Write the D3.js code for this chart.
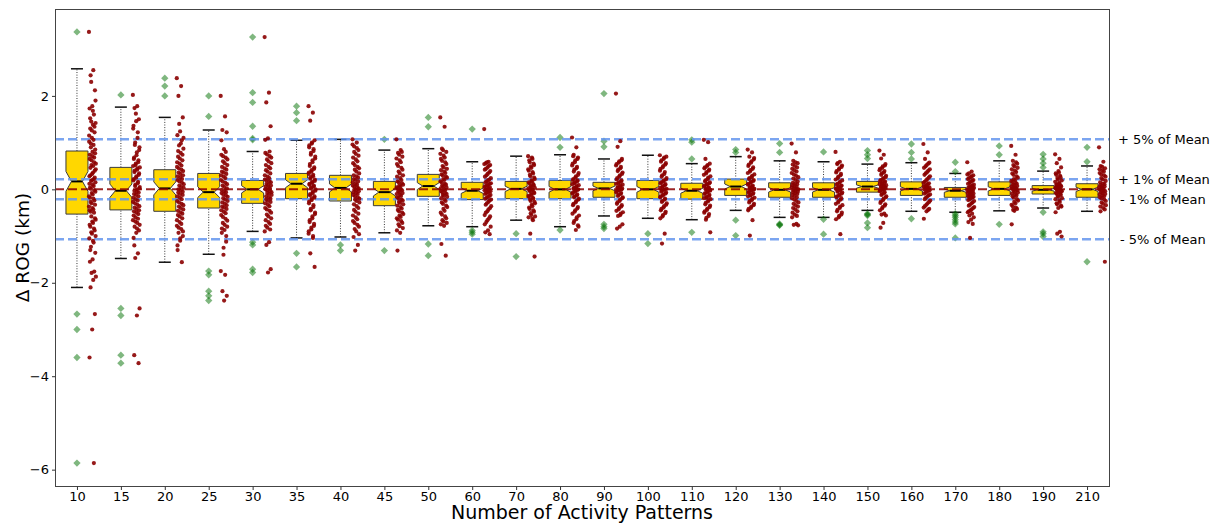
<!DOCTYPE html>
<html>
<head>
<meta charset="utf-8">
<script src="https://cdn.jsdelivr.net/npm/d3@7"></script>
<style>
  body { margin: 0; background: #fff; }
  svg { font-family: "DejaVu Sans", sans-serif; }
</style>
</head>
<body>
<svg id="svg-main" width="1219" height="523"></svg>
<script>
// categories (number of activity patterns)
var categories = [10, 15, 20, 25, 30, 35, 40, 45, 50, 60, 70, 80, 90, 100, 110, 120, 130, 140, 150, 160, 170, 180, 190, 210];

// box stats (km)
var whiskerLow  = [-2.10, -1.48, -1.56, -1.39, -0.90, -1.04, -1.02, -0.93, -0.78, -0.80, -0.66, -0.80, -0.57, -0.62, -0.65, -0.45, -0.60, -0.60, -0.45, -0.47, -0.49, -0.46, -0.40, -0.47];
var q1          = [-0.53, -0.44, -0.47, -0.40, -0.30, -0.20, -0.25, -0.35, -0.15, -0.22, -0.20, -0.20, -0.17, -0.20, -0.21, -0.13, -0.17, -0.17, -0.06, -0.13, -0.17, -0.13, -0.10, -0.17];
var medians     = [0.17, -0.03, 0.02, -0.06, 0.00, 0.12, 0.03, -0.06, 0.07, -0.03, 0.01, 0.00, 0.02, 0.00, -0.03, 0.06, -0.01, -0.01, 0.06, 0.01, -0.03, 0.01, -0.01, 0.00];
var q3          = [0.82, 0.47, 0.42, 0.34, 0.19, 0.34, 0.30, 0.17, 0.32, 0.15, 0.17, 0.19, 0.15, 0.19, 0.13, 0.22, 0.14, 0.14, 0.17, 0.16, 0.04, 0.16, 0.08, 0.12];
var whiskerHigh = [2.58, 1.76, 1.54, 1.27, 0.81, 1.05, 1.07, 0.84, 0.87, 0.59, 0.71, 0.74, 0.65, 0.73, 0.55, 0.70, 0.61, 0.59, 0.54, 0.57, 0.34, 0.61, 0.39, 0.50];
var sampleSize = 100;

var outliers = [
  [3.37, -2.67, -3.0, -3.6, -5.86],
  [2.02, -2.55, -2.7, -3.55, -3.72],
  [2.38, 2.21, 2.0],
  [2.0, 1.56, -1.75, -1.83, -2.18, -2.28, -2.38],
  [3.26, 2.07, 1.86, 1.35, 1.09, 1.06, -1.13, -1.19, -1.71, -1.78],
  [1.78, 1.64, 1.47, -1.37, -1.66],
  [-1.19, -1.31],
  [1.07, -1.31],
  [1.54, 1.34, -1.17, -1.42],
  [1.29, -0.88, -0.92, -0.96],
  [-0.95, -1.44],
  [1.11, 0.90, -0.87],
  [2.05, 1.03, 0.91, -0.75, -0.80, -0.84],
  [-0.95, -1.16],
  [1.06, 1.01, 0.65, -0.92],
  [0.85, 0.79, -0.66, -0.99],
  [0.98, 0.79, -0.74, -0.76, -0.77],
  [0.80, -0.64, -0.96],
  [0.83, 0.74, 0.66, -0.52, -0.54, -0.56, -0.72, -0.82],
  [0.97, 0.79, 0.65, -0.63],
  [0.58, 0.38, -0.52, -0.56, -0.60, -0.65, -0.70, -0.74, -1.04],
  [0.93, 0.74, -0.75],
  [0.75, 0.65, 0.56, 0.47, -0.49, -0.91, -0.95, -1.01],
  [0.90, 0.59, -1.55]
];

// individual runs (red strip)
var samples = [
  [3.37, 2.55, 2.44, 2.12, 1.78, 1.73, 1.6, 1.45, 1.42, 1.38, 1.3, 1.22, 1.1, 1.02, 0.95, 0.9, 0.85, 0.8, 0.74, 0.68, 0.62, 0.55, 0.5, 0.46, 0.4, 0.33, 0.28, 0.22, 0.18, 0.15, 0.1, 0.04, -0.02, -0.08, -0.15, -0.2, -0.27, -0.33, -0.4, -0.45, -0.5, -0.58, -0.65, -0.72, -0.8, -0.88, -0.95, -1.05, -1.14, -1.23, -1.36, -1.5, -1.55, -1.76, -1.79, -1.87, -1.94, -2.1, -2.67, -3.0, -3.6, -5.86,
   2.3, 1.9, 1.68, 1.52, 1.34, 1.26, 1.15, 1.06, 0.98, 0.77, 0.71, 0.65, 0.58, 0.52, 0.43, 0.36, 0.3, 0.25, 0.2, 0.12, 0.07, 0.01, -0.05, -0.11, -0.18, -0.24, -0.3, -0.37, -0.43, -0.48, -0.62, -0.69, -0.76, -0.84, -0.92, -1.0, -1.1, -1.3],
  [2.02, 1.78, 1.74, 1.5, 1.46, 1.36, 1.22, 1.0, 0.9, 0.79, 0.68, 0.62, 0.55, 0.5, 0.45, 0.4, 0.34, 0.28, 0.22, 0.16, 0.1, 0.05, 0.0, -0.03, -0.07, -0.12, -0.18, -0.24, -0.3, -0.36, -0.42, -0.47, -0.53, -0.6, -0.66, -0.72, -0.8, -0.88, -0.93, -1.04, -1.37, -1.47, -2.55, -2.7, -3.55, -3.72,
   1.62, 1.3, 1.1, 0.95, 0.84, 0.73, 0.65, 0.58, 0.52, 0.47, 0.42, 0.37, 0.31, 0.25, 0.19, 0.13, 0.07, 0.02, -0.05, -0.1, -0.15, -0.21, -0.27, -0.33, -0.39, -0.45, -0.5, -0.56, -0.63, -0.69, -0.76, -0.84, -1.2],
  [2.38, 2.21, 2.0, 1.54, 1.24, 1.16, 1.05, 0.94, 0.87, 0.78, 0.7, 0.62, 0.55, 0.48, 0.42, 0.36, 0.3, 0.25, 0.2, 0.14, 0.08, 0.03, -0.02, -0.07, -0.12, -0.18, -0.25, -0.31, -0.37, -0.43, -0.49, -0.55, -0.62, -0.7, -0.78, -0.85, -0.93, -1.0, -1.1, -1.2, -1.56,
   1.4, 1.1, 0.98, 0.82, 0.74, 0.66, 0.58, 0.51, 0.45, 0.39, 0.33, 0.28, 0.22, 0.17, 0.11, 0.05, 0.0, -0.05, -0.1, -0.15, -0.21, -0.28, -0.34, -0.4, -0.46, -0.52, -0.58, -0.66, -0.74, -0.82, -0.9, -1.05, -1.3],
  [2.0, 1.56, 1.27, 1.22, 0.86, 0.74, 0.68, 0.6, 0.52, 0.45, 0.38, 0.33, 0.27, 0.2, 0.14, 0.08, 0.02, -0.04, -0.08, -0.13, -0.19, -0.25, -0.31, -0.37, -0.42, -0.48, -0.55, -0.63, -0.72, -0.8, -0.87, -0.93, -1.12, -1.4, -1.75, -1.83, -2.18, -2.28, -2.38,
   1.05, 0.8, 0.71, 0.64, 0.56, 0.48, 0.42, 0.36, 0.3, 0.24, 0.17, 0.11, 0.05, -0.01, -0.06, -0.11, -0.16, -0.22, -0.28, -0.34, -0.39, -0.45, -0.51, -0.59, -0.67, -0.76, -0.84, -1.0, -1.25],
  [3.26, 2.07, 1.86, 1.35, 1.09, 1.06, 0.81, 0.75, 0.68, 0.6, 0.52, 0.45, 0.38, 0.3, 0.24, 0.19, 0.15, 0.1, 0.06, 0.02, -0.02, -0.06, -0.1, -0.15, -0.2, -0.25, -0.3, -0.36, -0.43, -0.5, -0.58, -0.66, -0.74, -0.82, -0.9, -1.13, -1.19, -1.71, -1.78,
   0.78, 0.71, 0.64, 0.56, 0.48, 0.41, 0.34, 0.27, 0.21, 0.17, 0.12, 0.08, 0.04, 0.0, -0.04, -0.08, -0.12, -0.17, -0.22, -0.27, -0.33, -0.4, -0.46, -0.54, -0.62, -0.7, -0.78, -0.86],
  [1.78, 1.64, 1.47, 1.05, 0.98, 0.9, 0.82, 0.74, 0.66, 0.58, 0.5, 0.44, 0.38, 0.33, 0.28, 0.23, 0.18, 0.14, 0.1, 0.06, 0.02, -0.03, -0.08, -0.13, -0.18, -0.23, -0.3, -0.38, -0.45, -0.53, -0.62, -0.7, -0.78, -0.86, -0.95, -1.04, -1.37, -1.66,
   1.0, 0.94, 0.86, 0.78, 0.7, 0.62, 0.54, 0.47, 0.41, 0.36, 0.31, 0.26, 0.21, 0.16, 0.12, 0.08, 0.04, 0.0, -0.05, -0.1, -0.15, -0.2, -0.26, -0.34, -0.42, -0.5, -0.58, -0.66, -0.74, -0.82, -0.9, -1.0],
  [1.07, 1.0, 0.92, 0.84, 0.76, 0.68, 0.6, 0.52, 0.45, 0.38, 0.3, 0.25, 0.2, 0.15, 0.1, 0.06, 0.02, -0.02, -0.06, -0.1, -0.15, -0.2, -0.25, -0.32, -0.4, -0.48, -0.56, -0.64, -0.72, -0.8, -0.9, -1.02, -1.19, -1.31,
   0.96, 0.88, 0.8, 0.72, 0.64, 0.56, 0.48, 0.42, 0.34, 0.28, 0.22, 0.17, 0.12, 0.08, 0.04, 0.0, -0.04, -0.08, -0.12, -0.17, -0.22, -0.28, -0.36, -0.44, -0.52, -0.6, -0.68, -0.76, -0.85, -0.96],
  [1.07, 0.84, 0.78, 0.7, 0.62, 0.54, 0.46, 0.38, 0.3, 0.24, 0.17, 0.13, 0.08, 0.04, 0.0, -0.04, -0.08, -0.12, -0.17, -0.22, -0.27, -0.32, -0.38, -0.44, -0.5, -0.56, -0.62, -0.68, -0.75, -0.83, -0.93, -1.31,
   0.8, 0.74, 0.66, 0.58, 0.5, 0.42, 0.34, 0.27, 0.2, 0.15, 0.1, 0.06, 0.02, -0.02, -0.06, -0.1, -0.14, -0.19, -0.24, -0.29, -0.35, -0.41, -0.47, -0.53, -0.59, -0.65, -0.72, -0.79, -0.88],
  [1.54, 1.34, 0.87, 0.8, 0.72, 0.65, 0.58, 0.5, 0.44, 0.38, 0.32, 0.27, 0.22, 0.17, 0.12, 0.08, 0.04, 0.0, -0.04, -0.08, -0.12, -0.16, -0.22, -0.28, -0.35, -0.42, -0.5, -0.58, -0.66, -0.72, -0.78, -1.17, -1.42,
   0.84, 0.76, 0.68, 0.61, 0.54, 0.47, 0.41, 0.35, 0.3, 0.25, 0.2, 0.15, 0.1, 0.06, 0.02, -0.02, -0.06, -0.1, -0.14, -0.19, -0.25, -0.31, -0.38, -0.46, -0.54, -0.62, -0.69, -0.75],
  [1.29, 0.59, 0.56, 0.52, 0.47, 0.42, 0.36, 0.3, 0.24, 0.19, 0.15, 0.12, 0.08, 0.05, 0.02, -0.01, -0.04, -0.07, -0.1, -0.14, -0.18, -0.22, -0.27, -0.33, -0.4, -0.47, -0.55, -0.62, -0.7, -0.8, -0.88, -0.92, -0.96,
   0.58, 0.54, 0.5, 0.44, 0.39, 0.33, 0.27, 0.21, 0.17, 0.13, 0.1, 0.07, 0.04, 0.0, -0.02, -0.05, -0.08, -0.12, -0.16, -0.2, -0.24, -0.3, -0.36, -0.43, -0.5, -0.58, -0.66, -0.75],
  [0.71, 0.65, 0.58, 0.52, 0.46, 0.4, 0.34, 0.28, 0.22, 0.17, 0.13, 0.09, 0.05, 0.02, -0.01, -0.04, -0.08, -0.12, -0.16, -0.2, -0.25, -0.3, -0.36, -0.42, -0.48, -0.55, -0.6, -0.66, -0.95, -1.44,
   0.68, 0.62, 0.55, 0.49, 0.43, 0.37, 0.31, 0.25, 0.19, 0.15, 0.11, 0.07, 0.03, 0.0, -0.02, -0.06, -0.1, -0.14, -0.18, -0.22, -0.27, -0.33, -0.39, -0.45, -0.51, -0.58, -0.63],
  [1.11, 0.9, 0.74, 0.68, 0.62, 0.55, 0.48, 0.42, 0.35, 0.28, 0.22, 0.19, 0.15, 0.11, 0.07, 0.03, 0.0, -0.03, -0.07, -0.11, -0.15, -0.2, -0.25, -0.31, -0.38, -0.45, -0.52, -0.6, -0.68, -0.8, -0.87,
   0.71, 0.65, 0.58, 0.51, 0.45, 0.38, 0.31, 0.25, 0.2, 0.17, 0.13, 0.09, 0.05, 0.01, -0.01, -0.05, -0.09, -0.13, -0.17, -0.22, -0.28, -0.34, -0.41, -0.48, -0.56, -0.64, -0.72, -0.77],
  [2.05, 1.03, 0.91, 0.65, 0.6, 0.54, 0.48, 0.42, 0.36, 0.3, 0.24, 0.19, 0.15, 0.12, 0.08, 0.05, 0.02, -0.01, -0.04, -0.08, -0.12, -0.17, -0.22, -0.28, -0.34, -0.4, -0.46, -0.52, -0.57, -0.75, -0.8, -0.84,
   0.62, 0.57, 0.51, 0.45, 0.39, 0.33, 0.27, 0.21, 0.17, 0.13, 0.1, 0.06, 0.03, 0.0, -0.02, -0.06, -0.1, -0.14, -0.19, -0.25, -0.31, -0.37, -0.43, -0.49, -0.55],
  [0.73, 0.68, 0.62, 0.56, 0.5, 0.44, 0.37, 0.3, 0.24, 0.19, 0.15, 0.11, 0.07, 0.03, 0.0, -0.03, -0.07, -0.11, -0.15, -0.2, -0.25, -0.3, -0.36, -0.42, -0.48, -0.55, -0.62, -0.95, -1.16,
   0.7, 0.65, 0.59, 0.53, 0.47, 0.4, 0.33, 0.27, 0.21, 0.17, 0.13, 0.09, 0.05, 0.01, -0.01, -0.05, -0.09, -0.13, -0.17, -0.22, -0.27, -0.33, -0.39, -0.45, -0.51, -0.58],
  [1.06, 1.01, 0.65, 0.55, 0.5, 0.45, 0.4, 0.34, 0.28, 0.22, 0.17, 0.13, 0.1, 0.06, 0.03, 0.0, -0.03, -0.06, -0.1, -0.14, -0.18, -0.21, -0.26, -0.32, -0.38, -0.44, -0.5, -0.57, -0.65, -0.92,
   0.52, 0.47, 0.42, 0.37, 0.31, 0.25, 0.19, 0.15, 0.11, 0.08, 0.04, 0.01, -0.01, -0.04, -0.08, -0.12, -0.16, -0.19, -0.23, -0.29, -0.35, -0.41, -0.47, -0.53, -0.61],
  [0.85, 0.79, 0.7, 0.64, 0.57, 0.5, 0.44, 0.38, 0.32, 0.26, 0.22, 0.18, 0.14, 0.1, 0.06, 0.03, 0.0, -0.03, -0.07, -0.1, -0.13, -0.18, -0.23, -0.28, -0.34, -0.4, -0.45, -0.66, -0.99,
   0.67, 0.6, 0.53, 0.47, 0.41, 0.35, 0.29, 0.24, 0.2, 0.16, 0.12, 0.08, 0.05, 0.01, -0.01, -0.05, -0.08, -0.12, -0.15, -0.2, -0.25, -0.31, -0.37, -0.42],
  [0.98, 0.79, 0.61, 0.56, 0.5, 0.44, 0.38, 0.32, 0.26, 0.2, 0.14, 0.11, 0.07, 0.04, 0.01, -0.02, -0.05, -0.08, -0.12, -0.17, -0.22, -0.28, -0.34, -0.4, -0.47, -0.54, -0.6, -0.74, -0.76, -0.77,
   0.58, 0.53, 0.47, 0.41, 0.35, 0.29, 0.23, 0.17, 0.12, 0.09, 0.05, 0.02, 0.0, -0.03, -0.06, -0.1, -0.14, -0.19, -0.25, -0.31, -0.37, -0.43, -0.5, -0.57],
  [0.8, 0.59, 0.54, 0.48, 0.42, 0.36, 0.3, 0.24, 0.19, 0.14, 0.1, 0.07, 0.04, 0.01, -0.02, -0.05, -0.09, -0.13, -0.17, -0.22, -0.28, -0.34, -0.4, -0.47, -0.54, -0.6, -0.64, -0.96,
   0.56, 0.51, 0.45, 0.39, 0.33, 0.27, 0.21, 0.16, 0.12, 0.08, 0.05, 0.02, 0.0, -0.03, -0.07, -0.11, -0.15, -0.19, -0.25, -0.31, -0.37, -0.44, -0.5, -0.57],
  [0.83, 0.74, 0.66, 0.54, 0.49, 0.44, 0.39, 0.34, 0.29, 0.24, 0.2, 0.17, 0.14, 0.11, 0.08, 0.06, 0.03, 0.0, -0.03, -0.06, -0.1, -0.15, -0.2, -0.26, -0.32, -0.38, -0.45, -0.52, -0.54, -0.56, -0.72, -0.82,
   0.51, 0.46, 0.41, 0.36, 0.31, 0.26, 0.22, 0.18, 0.15, 0.12, 0.09, 0.07, 0.04, 0.01, -0.01, -0.04, -0.08, -0.12, -0.17, -0.23, -0.29, -0.35, -0.41],
  [0.97, 0.79, 0.65, 0.57, 0.52, 0.46, 0.4, 0.34, 0.28, 0.22, 0.16, 0.13, 0.09, 0.06, 0.03, 0.01, -0.02, -0.05, -0.09, -0.13, -0.18, -0.24, -0.3, -0.36, -0.42, -0.47, -0.63,
   0.55, 0.49, 0.43, 0.37, 0.31, 0.25, 0.19, 0.14, 0.11, 0.07, 0.04, 0.02, 0.0, -0.03, -0.07, -0.11, -0.15, -0.21, -0.27, -0.33, -0.39, -0.44],
  [0.58, 0.38, 0.34, 0.3, 0.26, 0.22, 0.18, 0.14, 0.1, 0.07, 0.04, 0.02, 0.0, -0.02, -0.04, -0.06, -0.09, -0.12, -0.15, -0.17, -0.21, -0.25, -0.3, -0.35, -0.4, -0.45, -0.49, -0.52, -0.56, -0.6, -0.65, -0.7, -0.74, -1.04,
   0.32, 0.28, 0.24, 0.2, 0.16, 0.12, 0.08, 0.05, 0.03, 0.01, -0.01, -0.03, -0.05, -0.08, -0.11, -0.14, -0.16, -0.19, -0.23, -0.28, -0.33, -0.38, -0.43, -0.47],
  [0.93, 0.74, 0.61, 0.55, 0.49, 0.43, 0.37, 0.31, 0.25, 0.2, 0.16, 0.12, 0.09, 0.06, 0.03, 0.01, -0.02, -0.05, -0.09, -0.13, -0.18, -0.24, -0.3, -0.36, -0.42, -0.46, -0.75,
   0.58, 0.52, 0.46, 0.4, 0.34, 0.28, 0.22, 0.18, 0.14, 0.1, 0.07, 0.04, 0.02, 0.0, -0.03, -0.07, -0.11, -0.15, -0.21, -0.27, -0.33, -0.39, -0.44],
  [0.75, 0.65, 0.56, 0.47, 0.39, 0.34, 0.29, 0.24, 0.19, 0.14, 0.1, 0.08, 0.05, 0.03, 0.01, -0.01, -0.03, -0.05, -0.08, -0.1, -0.14, -0.19, -0.24, -0.3, -0.35, -0.4, -0.49, -0.91, -0.95, -1.01,
   0.36, 0.31, 0.26, 0.21, 0.16, 0.12, 0.09, 0.06, 0.04, 0.02, 0.0, -0.02, -0.04, -0.06, -0.09, -0.12, -0.16, -0.21, -0.27, -0.32, -0.37],
  [0.9, 0.59, 0.5, 0.45, 0.4, 0.35, 0.3, 0.24, 0.18, 0.12, 0.09, 0.06, 0.03, 0.0, -0.03, -0.06, -0.1, -0.13, -0.17, -0.22, -0.28, -0.34, -0.4, -0.47, -1.55,
   0.48, 0.43, 0.38, 0.32, 0.27, 0.21, 0.15, 0.11, 0.07, 0.04, 0.01, -0.01, -0.04, -0.08, -0.11, -0.15, -0.19, -0.25, -0.31, -0.37, -0.43]
];

// reference lines: percent of the mean ROG
var meanRog = 21.4;
var refPercents = [5, 1, -1, -5];
var refLabels = ["+ 5% of Mean", "+ 1% of Mean", "- 1% of Mean", "- 5% of Mean"];

var plotLeft = 55, plotRight = 1109, plotTop = 9, plotBottom = 486;
var svg = d3.select("#svg-main");

var x = d3.scalePoint()
  .domain(categories)
  .range([plotLeft, plotRight])
  .padding(0.5);

var y = d3.scaleLinear()
  .domain([-6.35, 3.86])
  .range([plotBottom, plotTop]);

var boxW = 22, capW = 12, stripOffset = 15.5, jitterW = 7;

// boxes
var boxes = svg.append("g").attr("id", "boxes");
categories.forEach(function(c, i) {
  var cx = x(c);
  var l = cx - boxW / 2, r = cx + boxW / 2, ind = boxW / 4;
  var half = 1.57 * (q3[i] - q1[i]) / Math.sqrt(sampleSize);
  var nLo = medians[i] - half, nHi = medians[i] + half;
  var g = boxes.append("g");

  // whiskers
  [[whiskerLow[i], q1[i]], [q3[i], whiskerHigh[i]]].forEach(function(w) {
    g.append("line")
      .attr("x1", cx).attr("x2", cx)
      .attr("y1", y(w[0])).attr("y2", y(w[1]))
      .attr("stroke", "#333")
      .attr("stroke-width", 1)
      .attr("stroke-dasharray", "1,1.6");
  });
  [whiskerLow[i], whiskerHigh[i]].forEach(function(v) {
    g.append("line")
      .attr("x1", cx - capW / 2).attr("x2", cx + capW / 2)
      .attr("y1", y(v)).attr("y2", y(v))
      .attr("stroke", "#111")
      .attr("stroke-width", 1.5);
  });

  var pts = [[l, q1[i]], [r, q1[i]], [r, nLo], [r - ind, medians[i]], [r, nHi], [r, q3[i]],
             [l, q3[i]], [l, nHi], [l + ind, medians[i]], [l, nLo]];
  g.append("path")
    .attr("d", "M" + pts.map(function(p) { return p[0] + "," + y(p[1]); }).join("L") + "Z")
    .attr("fill", "#ffd700")
    .attr("stroke", "#3a3a3a")
    .attr("stroke-width", 1)
    .attr("stroke-linejoin", "miter");

  g.append("line")
    .attr("x1", l + ind).attr("x2", r - ind)
    .attr("y1", y(medians[i])).attr("y2", y(medians[i]))
    .attr("stroke", "black")
    .attr("stroke-width", 2);

  g.selectAll("path.flier")
    .data(outliers[i])
    .enter()
    .append("path")
    .attr("class", "flier")
    .attr("d", d3.symbol().type(d3.symbolDiamond2).size(34))
    .attr("transform", function(v) { return "translate(" + cx + "," + y(v) + ")"; })
    .attr("fill", "#007000")
    .attr("fill-opacity", 0.5);
});

// reference lines
var refs = svg.append("g").attr("id", "refs");
refPercents.forEach(function(p, i) {
  var v = meanRog * p / 100;
  refs.append("line")
    .attr("x1", plotLeft).attr("x2", plotRight)
    .attr("y1", y(v)).attr("y2", y(v))
    .attr("stroke", "#6495ed")
    .attr("stroke-opacity", 0.85)
    .attr("stroke-width", 2.5)
    .attr("stroke-dasharray", "9,4");
  svg.append("text")
    .attr("x", p < 0 ? 1120 : 1118)
    .attr("y", y(v))
    .attr("dy", "0.35em")
    .attr("fill", "black")
    .style("font-size", "13px")
    .text(refLabels[i]);
});
refs.append("line")
  .attr("x1", plotLeft).attr("x2", plotRight)
  .attr("y1", y(0)).attr("y2", y(0))
  .attr("stroke", "#8b0000")
  .attr("stroke-opacity", 0.85)
  .attr("stroke-width", 2)
  .attr("stroke-dasharray", "9,4");

// strip of individual runs
var strip = svg.append("g").attr("id", "strip");
categories.forEach(function(c, i) {
  strip.selectAll(null)
    .data(samples[i])
    .enter()
    .append("circle")
    .attr("cx", function(v, k) { return x(c) + stripOffset + (((k * 0.618034) % 1) - 0.5) * jitterW; })
    .attr("cy", function(v) { return y(v); })
    .attr("r", 2.1)
    .attr("fill", "#8b0000")
    .attr("fill-opacity", 0.9);
});

// frame
svg.append("rect")
  .attr("x", plotLeft + 0.5).attr("y", plotTop + 0.5)
  .attr("width", plotRight - plotLeft).attr("height", plotBottom - plotTop)
  .attr("fill", "none")
  .attr("stroke", "#444")
  .attr("stroke-width", 1);

// axes
var xAxis = svg.append("g")
  .attr("transform", "translate(0," + (plotBottom + 0.5) + ")")
  .call(d3.axisBottom(x).tickSize(3.5).tickPadding(1.5));
var yAxis = svg.append("g")
  .attr("transform", "translate(" + (plotLeft + 0.5) + ",0)")
  .call(d3.axisLeft(y).tickValues([-6, -4, -2, 0, 2]).tickSize(3.5).tickPadding(3)
    .tickFormat(function(d) { return d < 0 ? "\u2212" + Math.abs(d) : d; }));
[xAxis, yAxis].forEach(function(a) {
  a.select(".domain").remove();
  a.selectAll("line").attr("stroke", "#333");
  a.selectAll("text")
    .attr("fill", "black")
    .style("font-family", "DejaVu Sans, sans-serif")
    .style("font-size", "13px");
});

svg.append("text")
  .attr("x", (plotLeft + plotRight) / 2)
  .attr("y", 519)
  .attr("text-anchor", "middle")
  .attr("fill", "black")
  .style("font-size", "19px")
  .text("Number of Activity Patterns");

svg.append("text")
  .attr("transform", "translate(29," + ((plotTop + plotBottom) / 2) + ") rotate(-90)")
  .attr("text-anchor", "middle")
  .attr("fill", "black")
  .style("font-size", "18.5px")
  .text("Δ ROG (km)");
</script>
</body>
</html>
